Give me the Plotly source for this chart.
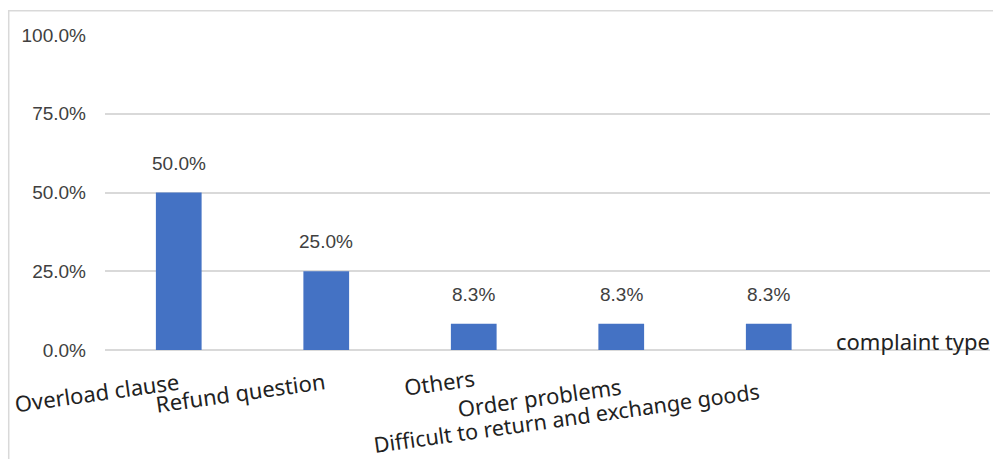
import plotly.graph_objects as go

categories = ["Overload clause", "Refund question", "Others", "Order problems",
              "Difficult to return and exchange goods"]
slots = categories + [" "]
values = [0.5, 0.25, 0.083, 0.083, 0.083]
tick_vals = [0, 0.25, 0.5, 0.75, 1.0]
tick_text = ["0.0%", "25.0%", "50.0%", "75.0%", "100.0%"]
axis_title = "complaint type"

# label layout (pixel offsets below axis / horizontal nudges)
label_yshift = [-13, -13, -10, -18, -24]
label_xshift = [5, 3, 5, 4, -5]

NUM_FONT = "Liberation Sans, Arial, sans-serif"
CAT_FONT = "Noto Sans, sans-serif"
TXT = "#404040"

fig = go.Figure()
fig.add_trace(go.Bar(
    x=categories, y=values, marker_color="#4472C4", marker_line_width=0,
    hoverinfo="skip",
))

for c, v in zip(categories, values):
    fig.add_annotation(x=c, y=v, xref="x", yref="y", text=f"{v:.1%}",
                       showarrow=False, yanchor="bottom", yshift=17,
                       font=dict(family=NUM_FONT, size=19, color=TXT))

for i, (c, ys, xs) in enumerate(zip(categories, label_yshift, label_xshift)):
    size = 21.5 if i == len(categories) - 1 else 22
    fig.add_annotation(x=c, y=0, xref="x", yref="paper", text=c,
                       showarrow=False, xanchor="right", yanchor="top",
                       textangle=-8, yshift=ys, xshift=xs,
                       font=dict(family=CAT_FONT, size=size, color="#222222"))

fig.add_annotation(x=1, y=0, xref="paper", yref="paper", text=axis_title,
                   showarrow=False, xanchor="right", yanchor="bottom", yshift=-8,
                   xshift=2,
                   font=dict(family=CAT_FONT, size=22, color="#222222"))

# chart outer border
fig.add_shape(type="rect", xref="paper", yref="paper",
              x0=-0.1088, x1=1.05, y0=-0.36, y1=1.0766,
              line=dict(color="#d9d9d9", width=1.5), fillcolor="rgba(0,0,0,0)")

fig.update_layout(
    width=993, height=459,
    margin=dict(l=105, r=3, t=35, b=109),
    plot_bgcolor="white", paper_bgcolor="white",
    bargap=0.69, showlegend=False,
)
fig.update_xaxes(categoryorder="array", categoryarray=slots, range=[-0.5, 5.5],
                 showticklabels=False, showgrid=False, zeroline=False,
                 showline=False, ticks="")
fig.update_yaxes(range=[0, 1.0], tickvals=tick_vals, ticktext=tick_text,
                 showgrid=True, gridcolor="#d9d9d9", gridwidth=1.5,
                 zeroline=True, zerolinecolor="#d9d9d9", zerolinewidth=1.5,
                 showline=False, ticks="", ticklabelstandoff=18,
                 tickfont=dict(family=NUM_FONT, size=19, color=TXT))

fig.write_html("out.html", config={"displayModeBar": False},
               post_script="document.body.style.margin='0';"
                           "document.body.style.overflow='hidden';")
